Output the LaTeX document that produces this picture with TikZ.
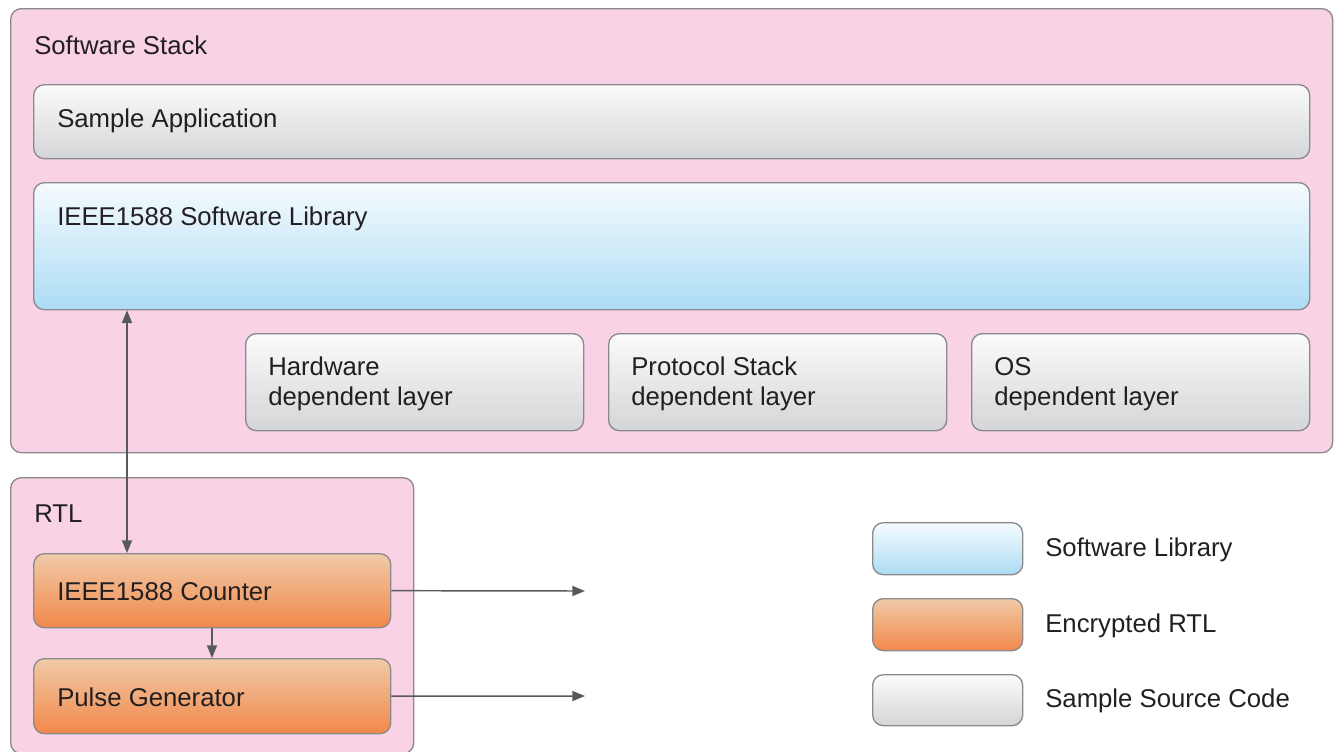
\documentclass[tikz,border=0pt]{standalone}
\usepackage{fontspec}
\setmainfont{Liberation Sans}
\usetikzlibrary{arrows.meta}
\definecolor{pinkfill}{HTML}{F9D3E5}
\definecolor{edgegray}{HTML}{8A8A8C}
\definecolor{arrowgray}{HTML}{58595B}
\definecolor{txt}{HTML}{231F20}
\definecolor{grayTop}{HTML}{FBFBFB}
\definecolor{grayBot}{HTML}{D4D5D7}
\definecolor{blueTop}{HTML}{F6FBFE}
\definecolor{blueBot}{HTML}{ACDCF5}
\definecolor{orTop}{HTML}{F0CAA8}
\definecolor{orBot}{HTML}{F2884A}
\begin{document}
\begin{tikzpicture}[x=0.75pt,y=-0.75pt,
  every node/.style={font=\fontsize{19.3}{22.3}\selectfont, text=txt},
  boxbase/.style={draw=edgegray, line width=1pt, rounded corners=8pt, anchor=north west, inner sep=0pt},
  container/.style={boxbase, fill=pinkfill},
  graybox/.style={boxbase, top color=grayTop, bottom color=grayBot},
  bluebox/.style={boxbase, top color=blueTop, bottom color=blueBot},
  orangebox/.style={boxbase, top color=orTop, bottom color=orBot},
  lbl/.style={anchor=west, inner sep=0pt, align=left},
  conn/.style={draw=arrowgray, line width=1.1pt, -{Triangle[length=9.5pt,width=7.5pt]}},
  biconn/.style={draw=arrowgray, line width=1.1pt, {Triangle[length=9.5pt,width=7.5pt]}-{Triangle[length=9.5pt,width=7.5pt]}}
]
\useasboundingbox (0,0) rectangle (1334,751);
% containers
\node[container, minimum width=1322*0.75pt, minimum height=444*0.75pt] (stack) at (10,8) {};
\node[lbl] (stackT) at (34,45) {Software Stack};
\node[container, minimum width=403*0.75pt, minimum height=276*0.75pt] (rtl) at (10,477) {};
\node[lbl] (rtlT) at (34,514) {RTL};
% software stack contents
\node[graybox, minimum width=1276*0.75pt, minimum height=74*0.75pt] (app) at (33,84) {};
\node[lbl] (appT) at (57,121) {Sample Application};
\node[bluebox, minimum width=1276*0.75pt, minimum height=127*0.75pt] (lib) at (33,182) {};
\node[lbl] (libT) at (57,219) {IEEE1588 Software Library};
\node[graybox, minimum width=338*0.75pt, minimum height=97*0.75pt] (hw) at (245,333) {};
\node[lbl] (hwT) at (268,384) {Hardware\\dependent layer};
\node[graybox, minimum width=338*0.75pt, minimum height=97*0.75pt] (ps) at (608,333) {};
\node[lbl] (psT) at (631,384) {Protocol Stack\\dependent layer};
\node[graybox, minimum width=338*0.75pt, minimum height=97*0.75pt] (os) at (971,333) {};
\node[lbl] (osT) at (994,384) {OS\\dependent layer};
% RTL contents
\node[orangebox, minimum width=357*0.75pt, minimum height=74*0.75pt] (cnt) at (33,553) {};
\node[lbl] (cntT) at (57,592) {IEEE1588 Counter};
\node[orangebox, minimum width=357*0.75pt, minimum height=75*0.75pt] (pg) at (33,658) {};
\node[lbl] (pgT) at (57,697) {Pulse Generator};
% free ends
\coordinate (out1) at (585,591);
\coordinate (out2) at (585,696);
% connectors
\draw[biconn] (lib.south west) ++(94,0) coordinate (bTop) -- (cnt.north west -| bTop);
\draw[conn] (cnt.south west) ++(179,0) coordinate (cTop) -- (pg.north west -| cTop);
\draw[conn] (cnt.east) -- (out1);
\draw[conn] (pg.east) -- (out2);
% legend
\node[bluebox, minimum width=150*0.75pt, minimum height=52*0.75pt] (lg1) at (872,522) {};
\node[lbl] (lg1T) at (1045,550) {Software Library};
\node[orangebox, minimum width=150*0.75pt, minimum height=52*0.75pt] (lg2) at (872,598) {};
\node[lbl] (lg2T) at (1045,626) {Encrypted RTL};
\node[graybox, minimum width=150*0.75pt, minimum height=51*0.75pt] (lg3) at (872,674) {};
\node[lbl] (lg3T) at (1045,701) {Sample Source Code};
\end{tikzpicture}
\end{document}
